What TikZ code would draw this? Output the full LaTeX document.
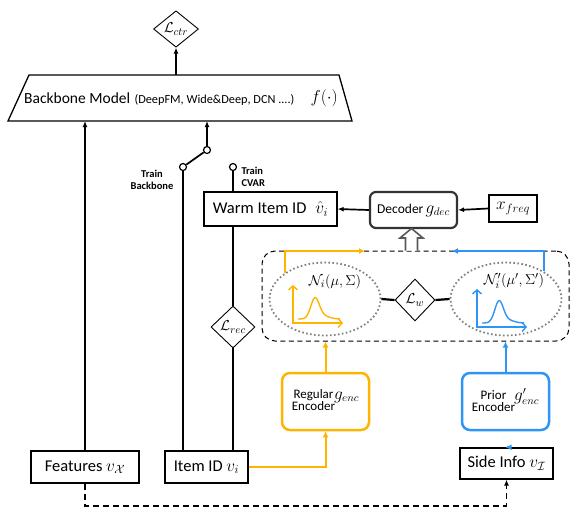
\documentclass[tikz,border=0pt]{standalone}
\usepackage{fontspec}
\setmainfont{Carlito}
\usetikzlibrary{shapes.geometric,arrows.meta,calc}
\definecolor{yel}{HTML}{FFB400}
\definecolor{blu}{HTML}{2E95F5}
\begin{document}
\begin{tikzpicture}[x=1pt,y=-1pt,
  conn/.style={line width=1.7pt},
  arr/.style={conn,-{Latex[length=6pt,width=5pt]}},
  box/.style={draw,line width=1.3pt,inner sep=0pt,font=\fontsize{16.5}{18}\selectfont},
  diam/.style={draw,diamond,line width=0.9pt,inner sep=0pt,font=\fontsize{15}{16}\selectfont},
  swc/.style={circle,draw,fill=white,line width=1.2pt,minimum size=7pt,inner sep=0pt},
  enc/.style={draw,rounded corners=8pt,line width=2.5pt,minimum width=87pt,minimum height=57pt,inner sep=0pt},
  dots/.style={ellipse,draw=gray,line width=1.8pt,dash pattern=on 1.6pt off 2.4pt,minimum width=111pt,minimum height=73pt,inner sep=0pt},
  lbl/.style={font=\fontsize{10.5}{12}\selectfont\bfseries},
  axis/.style={line width=1.4pt,{Straight Barb[length=4pt,width=9pt]}-{Straight Barb[length=4pt,width=9pt]}},
  flow/.style={line width=2pt,-{Latex[length=6pt,width=6pt]}}
]
\useasboundingbox (0,0) rectangle (570,512);

% backbone trapezium
\draw[line width=1.3pt] (29,75) -- (339,75) -- (352,121) -- (8,121) -- cycle;
\coordinate (bbt) at (176,75);
\coordinate (bbb) at (180,121);
\node[anchor=west,inner sep=0pt,font=\fontsize{15.5}{17}\selectfont] (bb) at (24,98) {Backbone Model};
\node[anchor=base west,inner sep=0pt,font=\fontsize{12.3}{13}\selectfont] (bbs) at ([xshift=4pt]bb.base east) {(DeepFM, Wide\&Deep, DCN ....)};
\node[anchor=east,inner sep=0pt,font=\fontsize{17}{18}\selectfont] (bbf) at (338,98) {$f(\cdot)$};

% L_ctr
\node[diam,minimum width=45pt,minimum height=36pt] (lctr) at (176,29) {$\mathcal{L}_{ctr}$};
\draw[arr] (bbt) -- (lctr.south);

% bottom boxes
\node[box,minimum width=108pt,minimum height=32pt] (feat) at (85,467) {Features $v_{\mathcal{X}}$};
\node[box,minimum width=83pt,minimum height=32pt] (item) at (206.5,467) {Item ID $v_i$};
\node[box,minimum width=93pt,minimum height=31pt] (side) at (506.5,463.5) {Side Info $v_{\mathcal{I}}$};

% switch
\node[swc] (s1) at (207,150) {};
\node[swc] (s2) at (183,167) {};
\node[swc] (s3) at (233,167) {};
\node[lbl,align=center] (tb) at (152,180) {Train\\Backbone};
\node[lbl,align=left,anchor=west] (tc) at (238,177) {Train\\CVAR};

% warm item, decoder, xfreq
\node[box,minimum width=133pt,minimum height=34pt] (warm) at (270.5,209) {Warm Item ID\hspace{9pt}$\hat{v}_i$};
\node[draw=black!80,line width=2.2pt,rounded corners=6pt,minimum width=87pt,minimum height=36pt,inner sep=0pt] (dec) at (413.5,210) {\fontsize{13.5}{15}\selectfont Decoder\,{\fontsize{16}{17}\selectfont$g_{dec}$}};
\node[box,minimum width=48pt,minimum height=27pt,font=\fontsize{18}{19}\selectfont] (xf) at (513,208.5) {$x_{freq}$};

% connections (left part)
\draw[arr] (feat.north) -- (feat.north |- bbb);
\draw[arr] (s1.north) -- (s1.north |- bbb);
\draw[conn] (s2) -- (s1);
\draw[conn] (s2.south) -- (s2.south |- item.north);
\draw[conn] (s3.south) -- (s3.south |- warm.north);
\node[diam,minimum width=44pt,minimum height=42pt] (lrec) at (233,327) {$\mathcal{L}_{rec}$};
\draw[conn] (lrec.north |- warm.south) -- (lrec.north);
\draw[conn] (lrec.south) -- (lrec.south |- item.north);
\draw[arr] (dec.west) -- (warm.east);
\draw[arr] (xf.west) -- (dec.east);

% dashed VAE box
\node[draw,dash pattern=on 5pt off 3.5pt,line width=1pt,rounded corners=13pt,minimum width=307pt,minimum height=90pt] (vae) at (415.5,296) {};

% hollow arrow
\draw[line width=1.6pt,draw=black!65,fill=white] (405.5,250.5) -- (405.5,238) -- (400,238) -- (411.5,228.5) -- (423,238) -- (417.5,238) -- (417.5,250.5);

% ellipses
\node[dots] (nl) at (325,299) {};
\node[dots] (nr) at (506,299) {};
\node[diam,minimum width=40pt,minimum height=42pt] (lw) at (415,300) {$\mathcal{L}_w$};
\draw[line width=2.2pt] (nl.east) -- (lw.west);
\draw[line width=2.2pt] (lw.east) -- (nr.west);

\node[font=\fontsize{15}{16}\selectfont] (tn) at (335,282) {$\mathcal{N}_i(\mu,\Sigma)$};
\node[font=\fontsize{15}{16}\selectfont] (tnp) at (514,281) {$\mathcal{N}_i^{\prime}(\mu',\Sigma')$};

% yellow distribution
\draw[yel,axis] (293,285) -- (293,323) -- (343,323);
\draw[yel,line width=1.4pt] plot[domain=-17:25,samples=80,smooth] ({315+\x},{319-20*exp(-(\x/6)^2)-3*exp(-((\x-8)/9)^2)});
% blue distribution
\draw[blu,axis] (477,289) -- (477,327) -- (527,327);
\draw[blu,line width=1.4pt] plot[domain=-17:25,samples=80,smooth] ({499+\x},{323-21*exp(-(\x/6)^2)-3*exp(-((\x-8)/9)^2)});

% yellow / blue flows into decoder
\coordinate (ye) at (365,251);
\coordinate (be) at (452,251);
\draw[yel,flow] (nl.147) |- (ye);
\draw[blu,flow] (nr.36) |- (be);

% encoders
\node[enc,draw=yel] (re) at (325.5,401.5) {\begin{tabular}{@{}c@{}}\fontsize{13}{14.5}\selectfont Regular\\[-1pt]\fontsize{13}{14.5}\selectfont Encoder\end{tabular}\hspace{-1pt}\raisebox{5pt}{\fontsize{16}{17}\selectfont$g_{enc}$}};
\node[enc,draw=blu] (pe) at (505.5,401.5) {\begin{tabular}{@{}c@{}}\fontsize{13}{14.5}\selectfont Prior\\[-1pt]\fontsize{13}{14.5}\selectfont Encoder\end{tabular}\hspace{-1pt}\raisebox{5pt}{\fontsize{16}{17}\selectfont$g'_{enc}$}};

\draw[yel,flow] (re.north) -- (re.north |- vae.south);
\draw[blu,flow] (pe.north) -- (pe.north |- vae.south);
\draw[yel,flow] (item.east) -| (re.south);
\draw[blu,flow] (side.north) -- (side.north -| pe.south);

% dashed bottom connector
\draw[line width=1.7pt,dash pattern=on 6pt off 4pt,-{Latex[length=6pt,width=5pt]}] (feat.south) -- ++(0,22) -| (side.south);
\end{tikzpicture}
\end{document}
